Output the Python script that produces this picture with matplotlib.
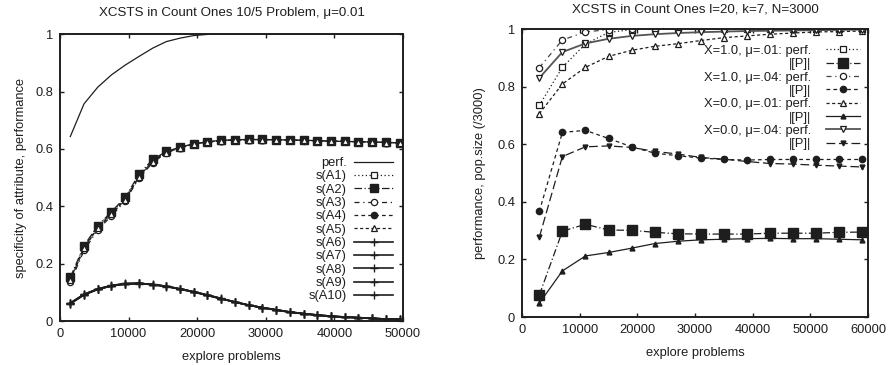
import matplotlib
matplotlib.use("Agg")
import matplotlib.pyplot as plt
from matplotlib.ticker import FixedLocator

plt.rcParams['font.family'] = ['Liberation Sans', 'DejaVu Sans']
plt.rcParams['font.size'] = 9

INK = '#1e1e1e'

# ---------------- left panel data ----------------
left_x = [1500, 3500, 5500, 7500, 9500, 11500, 13500, 15500, 17500, 19500,
          21500, 23500, 25500, 27500, 29500, 31500, 33500, 35500, 37500, 39500,
          41500, 43500, 45500, 47500, 49500]
left_perf = [0.643, 0.757, 0.815, 0.858, 0.892, 0.922, 0.951, 0.974, 0.986, 0.995,
             0.999, 1.0, 1.0, 1.0, 1.0, 1.0, 1.0, 1.0, 1.0, 1.0,
             1.0, 1.0, 1.0, 1.0, 1.0]
s_A1 = [0.148, 0.260, 0.330, 0.378, 0.428, 0.506, 0.560, 0.589, 0.605, 0.617,
        0.624, 0.629, 0.631, 0.632, 0.632, 0.632, 0.631, 0.630, 0.628, 0.627,
        0.626, 0.625, 0.624, 0.622, 0.621]
s_A2 = [0.152, 0.263, 0.332, 0.381, 0.431, 0.511, 0.563, 0.591, 0.606, 0.618,
        0.625, 0.630, 0.632, 0.633, 0.633, 0.632, 0.631, 0.630, 0.629, 0.627,
        0.626, 0.625, 0.624, 0.623, 0.621]
s_A3 = [0.135, 0.246, 0.318, 0.366, 0.419, 0.497, 0.552, 0.586, 0.603, 0.616,
        0.623, 0.628, 0.631, 0.632, 0.632, 0.631, 0.631, 0.629, 0.628, 0.627,
        0.626, 0.625, 0.624, 0.622, 0.620]
s_A4 = [0.145, 0.256, 0.326, 0.374, 0.425, 0.503, 0.557, 0.588, 0.604, 0.617,
        0.624, 0.629, 0.631, 0.632, 0.632, 0.632, 0.631, 0.630, 0.628, 0.627,
        0.626, 0.625, 0.624, 0.622, 0.621]
s_A5 = [0.142, 0.253, 0.324, 0.372, 0.423, 0.501, 0.556, 0.587, 0.604, 0.616,
        0.624, 0.628, 0.631, 0.632, 0.632, 0.631, 0.631, 0.630, 0.628, 0.627,
        0.626, 0.625, 0.624, 0.622, 0.621]
s_A6 = [0.063, 0.093, 0.112, 0.123, 0.130, 0.131, 0.127, 0.121, 0.112, 0.102,
        0.090, 0.078, 0.066, 0.055, 0.047, 0.039, 0.031, 0.026, 0.021, 0.017,
        0.014, 0.012, 0.009, 0.007, 0.006]
s_A7 = [0.061, 0.091, 0.111, 0.122, 0.129, 0.131, 0.128, 0.121, 0.111, 0.101,
        0.090, 0.078, 0.067, 0.056, 0.046, 0.038, 0.031, 0.025, 0.020, 0.016,
        0.013, 0.011, 0.009, 0.007, 0.005]
s_A8 = [0.062, 0.092, 0.112, 0.124, 0.131, 0.132, 0.127, 0.120, 0.112, 0.102,
        0.091, 0.079, 0.066, 0.055, 0.047, 0.039, 0.032, 0.026, 0.021, 0.017,
        0.014, 0.012, 0.009, 0.007, 0.006]
s_A9 = [0.060, 0.091, 0.110, 0.122, 0.129, 0.130, 0.127, 0.121, 0.111, 0.101,
        0.089, 0.077, 0.066, 0.055, 0.046, 0.039, 0.031, 0.025, 0.020, 0.016,
        0.014, 0.011, 0.009, 0.007, 0.005]
s_A10 = [0.062, 0.093, 0.111, 0.123, 0.130, 0.131, 0.127, 0.121, 0.112, 0.102,
         0.090, 0.078, 0.066, 0.055, 0.047, 0.039, 0.031, 0.026, 0.021, 0.017,
         0.014, 0.012, 0.009, 0.007, 0.006]

# ---------------- right panel data ----------------
right_x = [3000, 7000, 11000, 15000, 19000, 23000, 27000, 31000, 35000, 39000,
           43000, 47000, 51000, 55000, 59000]
x1_m01_perf = [0.735, 0.867, 0.948, 0.988, 0.998, 1.0, 1.0, 1.0, 1.0, 1.0,
               1.0, 1.0, 1.0, 1.0, 1.0]
x1_m01_pop = [0.076, 0.298, 0.322, 0.302, 0.301, 0.294, 0.289, 0.288, 0.288, 0.288,
              0.291, 0.291, 0.291, 0.294, 0.295]
x1_m04_perf = [0.866, 0.962, 0.990, 0.998, 1.0, 1.0, 1.0, 1.0, 1.0, 1.0,
               1.0, 1.0, 1.0, 1.0, 1.0]
x1_m04_pop = [0.367, 0.641, 0.648, 0.620, 0.591, 0.569, 0.560, 0.552, 0.547, 0.545,
              0.547, 0.547, 0.547, 0.547, 0.547]
x0_m01_perf = [0.706, 0.809, 0.867, 0.905, 0.926, 0.940, 0.949, 0.960, 0.970, 0.976,
               0.982, 0.986, 0.990, 0.991, 0.993]
x0_m01_pop = [0.048, 0.160, 0.212, 0.224, 0.239, 0.255, 0.263, 0.268, 0.270, 0.272,
              0.273, 0.272, 0.272, 0.270, 0.268]
x0_m04_perf = [0.830, 0.920, 0.950, 0.966, 0.976, 0.982, 0.986, 0.989, 0.991, 0.993,
               0.994, 0.995, 0.996, 0.997, 0.998]
x0_m04_pop = [0.277, 0.557, 0.591, 0.594, 0.589, 0.575, 0.566, 0.554, 0.548, 0.540,
              0.533, 0.531, 0.527, 0.524, 0.521]

left_ticks_x = [0, 10000, 20000, 30000, 40000, 50000]
right_ticks_x = [0, 10000, 20000, 30000, 40000, 50000, 60000]
y_ticks = [0, 0.2, 0.4, 0.6, 0.8, 1]
y_ticklabels = ['0', '0.2', '0.4', '0.6', '0.8', '1']

DOT = (0, (1, 2))
DASHDOT = (0, (6, 2, 1, 2))
DASHDOT2 = (0, (4, 3, 1, 3))
SHORT = (0, (3, 2.5))
SHORT2 = (0, (2.5, 2))
LONG = (0, (7, 3))


def style_axes(ax, xmax, xticks):
    ax.set_xlim(0, xmax)
    ax.set_ylim(0, 1)
    ax.xaxis.set_major_locator(FixedLocator(xticks))
    ax.set_xticklabels([str(v) for v in xticks])
    ax.yaxis.set_major_locator(FixedLocator(y_ticks))
    ax.set_yticklabels(y_ticklabels)
    ax.tick_params(direction='in', top=True, right=True, length=3.2, width=1.0,
                   color=INK, labelcolor=INK, labelsize=9.3, pad=5)
    for sp in ax.spines.values():
        sp.set_linewidth(1.4)
        sp.set_color(INK)
    ax.set_xlabel('explore problems', fontsize=9.3, color=INK, labelpad=8)


fig = plt.figure(figsize=(8.89, 3.65), dpi=100)

# ---------------- left panel ----------------
axL = fig.add_axes([0.0675, 0.1205, 0.3858, 0.786])
lw = 0.9
axL.plot(left_x, left_perf, color=INK, lw=lw, ls='-', label='perf.')
axL.plot(left_x, s_A1, color=INK, lw=lw, ls=DOT, marker='s', ms=4.5,
         mfc='white', mec=INK, mew=0.9, label='s(A1)')
axL.plot(left_x, s_A2, color=INK, lw=lw, ls=DASHDOT, marker='s', ms=5.5,
         mfc=INK, mec=INK, label='s(A2)')
axL.plot(left_x, s_A3, color=INK, lw=lw, ls=DASHDOT2, marker='o', ms=4.5,
         mfc='white', mec=INK, mew=0.9, label='s(A3)')
axL.plot(left_x, s_A4, color=INK, lw=lw, ls=SHORT, marker='o', ms=4.5,
         mfc=INK, mec=INK, label='s(A4)')
axL.plot(left_x, s_A5, color=INK, lw=lw, ls=SHORT2, marker='^', ms=4.5,
         mfc='white', mec=INK, mew=0.9, label='s(A5)')
for s, lab in zip([s_A6, s_A7, s_A8, s_A9, s_A10],
                  ['s(A6)', 's(A7)', 's(A8)', 's(A9)', 's(A10)']):
    axL.plot(left_x, s, color=INK, lw=1.2, ls='-', marker='+', ms=6,
             mew=1.0, label=lab)
style_axes(axL, 50000, left_ticks_x)
axL.set_ylabel('specificity of attribute, performance', fontsize=9.3, color=INK,
               labelpad=6)
axL.set_title('XCSTS in Count Ones 10/5 Problem, \u03bc=0.01', fontsize=9.6,
              color=INK, pad=13)
axL.legend(loc='center right', bbox_to_anchor=(0.971, 0.318), frameon=False,
           markerfirst=False, fontsize=9.3, handlelength=3.0, handletextpad=0.6,
           labelspacing=0.1, borderpad=0, borderaxespad=0, numpoints=1,
           labelcolor=INK)

# ---------------- right panel ----------------
axR = fig.add_axes([0.5872, 0.1315, 0.3892, 0.789])
axR.plot(right_x, x1_m01_perf, color=INK, lw=lw, ls=DOT, marker='s', ms=5,
         mfc='white', mec=INK, mew=0.9, label='X=1.0, \u03bc=.01: perf.')
axR.plot(right_x, x1_m01_pop, color=INK, lw=lw, ls=DASHDOT, marker='s', ms=6.5,
         mfc=INK, mec=INK, label='|[P]|')
axR.plot(right_x, x1_m04_perf, color='#444444', lw=lw, ls=DASHDOT2, marker='o',
         ms=4.5, mfc='white', mec=INK, mew=0.9, label='X=1.0, \u03bc=.04: perf.')
axR.plot(right_x, x1_m04_pop, color=INK, lw=lw, ls=SHORT, marker='o', ms=4.5,
         mfc=INK, mec=INK, label='|[P]|')
axR.plot(right_x, x0_m01_perf, color=INK, lw=lw, ls=SHORT2, marker='^', ms=4.5,
         mfc='white', mec=INK, mew=0.9, label='X=0.0, \u03bc=.01: perf.')
axR.plot(right_x, x0_m01_pop, color=INK, lw=lw, ls='-', marker='^', ms=3.5,
         mfc=INK, mec=INK, label='|[P]|')
axR.plot(right_x, x0_m04_perf, color='#555555', lw=1.3, ls='-', marker='v',
         ms=5, mfc='white', mec=INK, mew=0.9, label='X=0.0, \u03bc=.04: perf.')
axR.plot(right_x, x0_m04_pop, color=INK, lw=lw, ls=LONG, marker='v', ms=3.5,
         mfc=INK, mec=INK, label='|[P]|')
style_axes(axR, 60000, right_ticks_x)
axR.set_ylabel('performance, pop.size (/3000)', fontsize=9.3, color=INK,
               labelpad=8)
axR.set_title('XCSTS in Count Ones l=20, k=7, N=3000', fontsize=9.6, color=INK,
              pad=12)
axR.legend(loc='center right', bbox_to_anchor=(0.977, 0.762), frameon=False,
           markerfirst=False, fontsize=9.3, handlelength=2.6, handletextpad=1.2,
           labelspacing=0.1, borderpad=0, borderaxespad=0, numpoints=1,
           labelcolor=INK)

fig.savefig('out.png', dpi=100)
